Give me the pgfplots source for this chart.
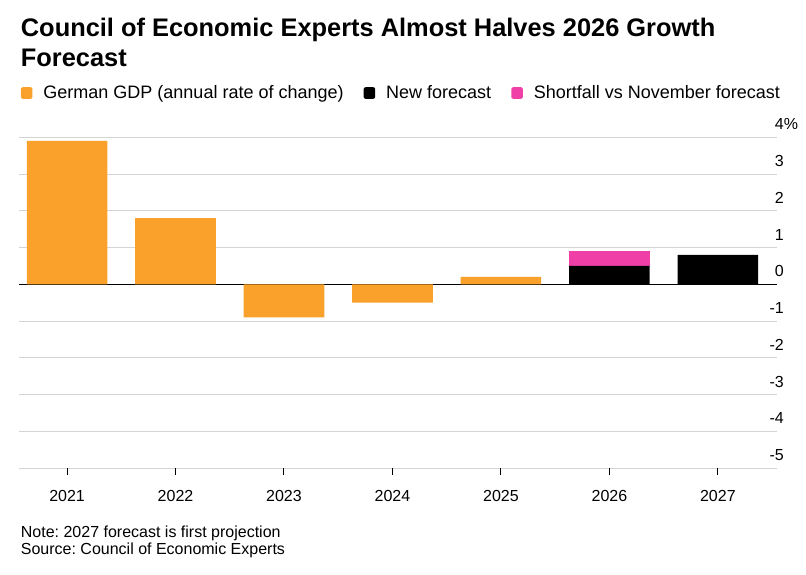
\documentclass[border=0pt]{standalone}
\usepackage{fontspec}
\setmainfont{Liberation Sans}
\usepackage{pgfplots}
\usepackage{pgfplotstable}
\pgfplotsset{compat=1.18}
\definecolor{gdporange}{HTML}{F9A12B}
\definecolor{shortpink}{HTML}{F040A8}
\definecolor{gridgray}{HTML}{D4D4D4}
\frenchspacing

\pgfplotstableread{
x gdp new short
0 3.9 0 0
1 1.8 0 0
2 -0.9 0 0
3 -0.5 0 0
4 0.2 0 0
5 0 0.5 0.4
6 0 0.8 0
}\gdpdata

\begin{document}
\begin{tikzpicture}[x=1pt,y=1pt]
\path[use as bounding box] (0,0) rectangle (806,-574);
\node[anchor=base west, inner sep=0pt, font=\fontsize{25.4}{30}\selectfont\bfseries] at (20.7,-36.7) {Council of Economic Experts Almost Halves 2026 Growth};
\node[anchor=base west, inner sep=0pt, font=\fontsize{25.4}{30}\selectfont\bfseries] at (20.7,-66.7) {Forecast};
\begin{axis}[
  at={(19pt,-468pt)}, anchor=south west,
  scale only axis, width=758pt, height=330.7pt,
  xmin=-0.443, xmax=6.545, ymin=-5, ymax=4,
  ybar stacked, bar width=80.6pt,
  axis line style={draw=none},
  xtick={0,1,2,3,4,5,6},
  xticklabels={2021,2022,2023,2024,2025,2026,2027},
  xtick pos=bottom, tick align=outside, major tick length=7pt,
  xtick style={draw=black, line width=1pt},
  ytick={-5,-4,-3,-2,-1,0,1,2,3,4},
  yticklabels={-5,-4,-3,-2,-1,0,1,2,3,4\rlap{\%}},
  ytick pos=right, ytick style={draw=none},
  ymajorgrids, major grid style={gridgray, line width=1pt},
  xticklabel style={font=\fontsize{16}{19}\selectfont, anchor=base, inner sep=0pt, yshift=-26pt},
  yticklabel style={font=\fontsize{16}{19}\selectfont, anchor=base east, inner sep=0pt, yshift=7.5pt},
  legend style={at={(axis description cs:0.0022,1.134)}, anchor=west, draw=none, fill=none,
    inner sep=0pt, font=\fontsize{18}{21}\selectfont, legend columns=-1,
    nodes={inner sep=0pt},
    /tikz/every odd column/.append style={column sep=11pt},
    /tikz/every even column/.append style={column sep=20pt}},
  legend cell align=left,
  legend image code/.code={\fill[#1, draw=none, rounded corners=2pt] (0pt,-5.8pt) rectangle (11.6pt,5.8pt);},
]
\addplot[fill=gdporange, draw=none] table[x=x,y=gdp]{\gdpdata};
\addplot[fill=black, draw=none] table[x=x,y=new]{\gdpdata};
\addplot[fill=shortpink, draw=none] table[x=x,y=short]{\gdpdata};
\legend{German GDP (annual rate of change), New forecast, Shortfall vs November forecast}
\draw[black, line width=1.3pt] (axis cs:-0.443,0) -- (axis cs:6.545,0);
\end{axis}
\node[anchor=base west, inner sep=0pt, font=\fontsize{16}{19}\selectfont] at (20.7,-537.7) {Note: 2027 forecast is first projection};
\node[anchor=base west, inner sep=0pt, font=\fontsize{16}{19}\selectfont] at (20.7,-554.3) {Source: Council of Economic Experts};
\end{tikzpicture}
\end{document}
